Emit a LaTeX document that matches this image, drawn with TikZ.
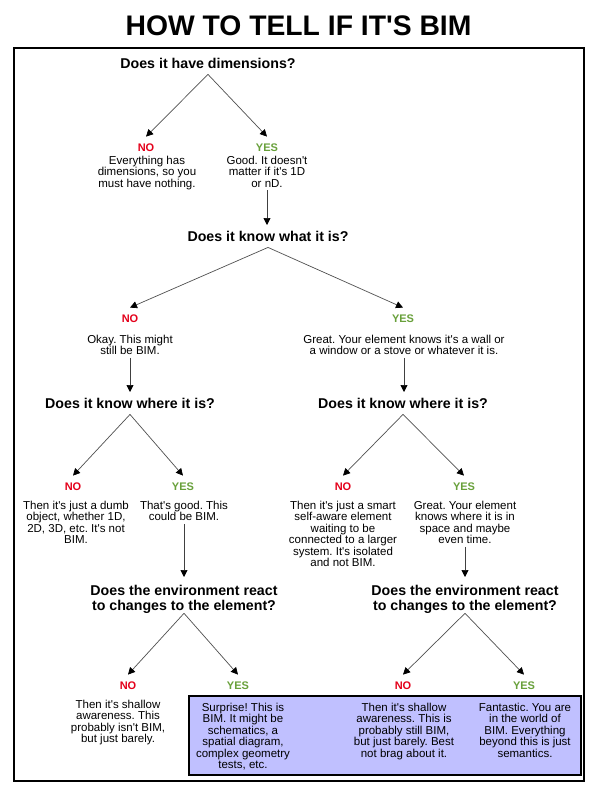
\documentclass[tikz,border=0pt]{standalone}
\usepackage{fontspec}
\setmainfont{Liberation Sans}
\usetikzlibrary{arrows.meta}
\definecolor{noRed}{RGB}{228,0,27}
\definecolor{yesGreen}{RGB}{104,160,58}
\definecolor{boxFill}{RGB}{192,192,255}
\definecolor{lineGray}{RGB}{80,80,80}
\newcommand{\ap}{\textquotesingle}
\frenchspacing
\begin{document}
\begin{tikzpicture}[x=1pt,y=-1pt,
  ttl/.style={font=\fontsize{28.3}{34}\selectfont\bfseries, inner sep=0pt},
  qtext/.style={font=\fontsize{14.2}{15}\selectfont\bfseries, align=center, inner sep=0pt, outer ysep=6pt, anchor=north},
  lblno/.style={font=\fontsize{11}{13}\selectfont\bfseries, text=noRed, inner sep=0pt, outer ysep=7.5pt},
  lblyes/.style={font=\fontsize{11}{13}\selectfont\bfseries, text=yesGreen, inner sep=0pt, outer ysep=7.5pt},
  body/.style={font=\fontsize{11.5}{11.5}\selectfont, align=center, inner sep=0pt, anchor=north},
  diag/.style={draw=lineGray, line width=0.7pt, -{Triangle[length=7pt,width=7pt,color=black]}},
  vert/.style={draw=black!75, line width=0.7pt, -{Triangle[length=7pt,width=7pt,color=black]}, shorten <=3pt},
  framebox/.style={draw=black, line width=2pt},
  resultbox/.style={draw=black, fill=boxFill, line width=1.8pt}
]
\fill[white] (0,0) rectangle (595,792);
\useasboundingbox (0,0) rectangle (595,792);

% title and frame
\node[ttl, anchor=base] (title) at (298.5,36) {HOW TO TELL IF IT\ap S BIM};
\draw[framebox] (13.5,48) rectangle (584,781);

% result box
\draw[resultbox] (189,696) rectangle (581,775);

% level 1
\node[qtext] (q1) at (208,52) {Does it have dimensions?};
\node[lblno] (no1) at (146,148) {NO};
\node[lblyes] (yes1) at (267,148) {YES};
\node[body] (t1n) at (147,155.5) {Everything has\\dimensions, so you\\must have nothing.};
\node[body] (t1y) at (267,155.5) {Good. It doesn\ap t\\matter if it\ap s 1D\\or nD.};
\draw[diag] (q1.south) -- (no1.north);
\draw[diag] (q1.south) -- (yes1.north);

% level 2
\node[qtext] (q2) at (268,225) {Does it know what it is?};
\draw[vert] (t1y.south) -- (t1y.south |- q2.north);
\node[lblno] (no2) at (130,319) {NO};
\node[lblyes] (yes2) at (403,319) {YES};
\draw[diag] (q2.south) -- (no2.north);
\draw[diag] (q2.south) -- (yes2.north);
\node[body] (t2n) at (130,334.5) {Okay. This might\\still be BIM.};
\node[body] (t2y) at (404,334.5) {Great. Your element knows it\ap s a wall or\\a window or a stove or whatever it is.};

% level 3
\node[qtext] (q3l) at (130,392) {Does it know where it is?};
\node[qtext] (q3r) at (403,392) {Does it know where it is?};
\draw[vert] (t2n.south) -- (t2n.south |- q3l.north);
\draw[vert] (t2y.south) -- (t2y.south |- q3r.north);
\node[lblno] (no3l) at (73,487) {NO};
\node[lblyes] (yes3l) at (183,487) {YES};
\node[lblno] (no3r) at (343,487) {NO};
\node[lblyes] (yes3r) at (464,487) {YES};
\draw[diag] (q3l.south) -- (no3l.north);
\draw[diag] (q3l.south) -- (yes3l.north);
\draw[diag] (q3r.south) -- (no3r.north);
\draw[diag] (q3r.south) -- (yes3r.north);
\node[body] (t3ln) at (76,500.5) {Then it\ap s just a dumb\\object, whether 1D,\\2D, 3D, etc. It\ap s not\\BIM.};
\node[body] (t3ly) at (184,500.5) {That\ap s good. This\\could be BIM.};
\node[body] (t3rn) at (343,500.5) {Then it\ap s just a smart\\self-aware element\\waiting to be\\connected to a larger\\system. It\ap s isolated\\and not BIM.};
\node[body] (t3ry) at (465,500.5) {Great. Your element\\knows where it is in\\space and maybe\\even time.};

% level 4
\node[qtext, outer ysep=0pt] (q4l) at (184,585) {Does the environment react\\to changes to the element?};
\node[qtext, outer ysep=0pt] (q4r) at (465,585) {Does the environment react\\to changes to the element?};
\draw[vert, shorten >=8pt] (t3ly.south) -- (t3ly.south |- q4l.north);
\draw[vert, shorten >=8pt] (t3ry.south) -- (t3ry.south |- q4r.north);
\node[lblno] (no4l) at (128,686) {NO};
\node[lblyes] (yes4l) at (238,686) {YES};
\node[lblno] (no4r) at (403,686) {NO};
\node[lblyes] (yes4r) at (524,686) {YES};
\draw[diag] (q4l.south) -- (no4l.north);
\draw[diag] (q4l.south) -- (yes4l.north);
\draw[diag] (q4r.south) -- (no4r.north);
\draw[diag] (q4r.south) -- (yes4r.north);
\node[body] (t4ln) at (118,699.5) {Then it\ap s shallow\\awareness. This\\probably isn\ap t BIM,\\but just barely.};
\node[body] (t4ly) at (243,702.5) {Surprise! This is\\BIM. It might be\\schematics, a\\spatial diagram,\\complex geometry\\tests, etc.};
\node[body] (t4rn) at (404,702.5) {Then it\ap s shallow\\awareness. This is\\probably still BIM,\\but just barely. Best\\not brag about it.};
\node[body] (t4ry) at (525,702.5) {Fantastic. You are\\in the world of\\BIM. Everything\\beyond this is just\\semantics.};
\end{tikzpicture}
\end{document}
